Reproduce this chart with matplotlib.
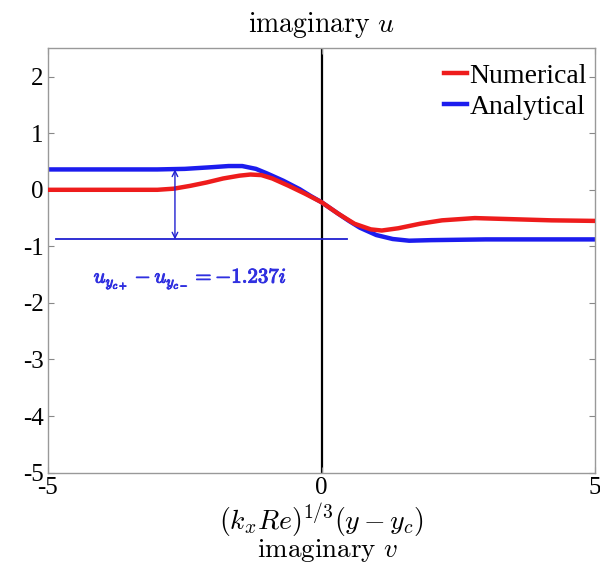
import matplotlib.pyplot as plt
import matplotlib.patheffects as pe

plt.rcParams['mathtext.fontset'] = 'cm'
plt.rcParams['axes.unicode_minus'] = False
plt.rcParams['font.family'] = ['Liberation Serif', 'DejaVu Serif']

# scaled coordinate (k_x Re)^(1/3) (y - y_c)
x_num = [-5, -4, -3, -2.7, -2.4, -2.1, -1.8, -1.5, -1.3, -1.1, -0.9, -0.6, -0.3, 0, 0.3,
         0.6, 0.9, 1.1, 1.4, 1.8, 2.2, 2.8, 3.5, 4.2, 5]
u_num = [0.0, 0.0, 0.0, 0.02, 0.07, 0.13, 0.20, 0.25, 0.27, 0.26, 0.20, 0.07, -0.07,
         -0.22, -0.42, -0.60, -0.70, -0.72, -0.68, -0.60, -0.54, -0.50, -0.52, -0.54, -0.55]

x_ana = [-5, -4, -3, -2.5, -2.0, -1.7, -1.45, -1.2, -1.0, -0.7, -0.4, -0.2, 0, 0.3, 0.5,
         0.7, 1.0, 1.3, 1.6, 2.0, 3, 4, 5]
u_ana = [0.36, 0.36, 0.36, 0.37, 0.40, 0.42, 0.42, 0.37, 0.29, 0.16, 0.01, -0.11, -0.22,
         -0.42, -0.55, -0.67, -0.80, -0.87, -0.90, -0.89, -0.877, -0.877, -0.877]

# jump of u across the critical layer
jump = -1.237
u_left = u_ana[0]
u_right = u_left + jump

fig = plt.figure(figsize=(6, 5.66), dpi=100)
ax = fig.add_axes([0.08, 0.165, 0.912, 0.7495])

ax.plot([0, 0], [-5, 2.5], color='black', lw=1.6, zorder=1)
ax.plot(x_num, u_num, color='#ee1c1c', lw=3.2, label='Numerical', zorder=3)
ax.plot(x_ana, u_ana, color='#1c1cee', lw=3.2, label='Analytical', zorder=2)

ax.plot([-4.85, 0.46], [u_right, u_right], color='#2020d0', lw=1.3)
ax.annotate('', xy=(-2.68, u_right), xytext=(-2.68, u_left),
            arrowprops=dict(arrowstyle='<->', color='#2020d0', lw=1.0,
                            shrinkA=0, shrinkB=0, mutation_scale=10))
ax.text(-2.4, -1.58, r'$u_{y_{c+}} - u_{y_{c-}} = %.3fi$' % jump, color='#3030e0',
        fontsize=15, ha='center', va='center',
        path_effects=[pe.withStroke(linewidth=0.7, foreground='#3030e0')])

ax.set_xlim(-5, 5)
ax.set_ylim(-5, 2.5)
ax.set_xticks([-5, 0, 5])
ax.set_yticks([-5, -4, -3, -2, -1, 0, 1, 2])
ax.tick_params(direction='in', length=4, width=0.8, color='#888888',
               top=True, right=True, labelsize=18, pad=3)
for s in ax.spines.values():
    s.set_color('#999999')
    s.set_linewidth(1.0)

ax.set_title(r'$\mathrm{imaginary}\ u$', fontsize=20, pad=12)
ax.set_xlabel(r'$(k_xRe)^{1/3}(y-y_c)$', fontsize=20, labelpad=2)
fig.text(0.546, 1 - 551 / 566, r'$\mathrm{imaginary}\ v$', fontsize=19.5,
         ha='center', va='center')

ax.legend(loc='upper right', bbox_to_anchor=(1.0, 0.985), frameon=False,
          handlelength=0.8, handletextpad=0.1, borderaxespad=0.0, borderpad=0.3,
          labelspacing=0.2, prop={'size': 20})

fig.savefig('out.png', dpi=100)
